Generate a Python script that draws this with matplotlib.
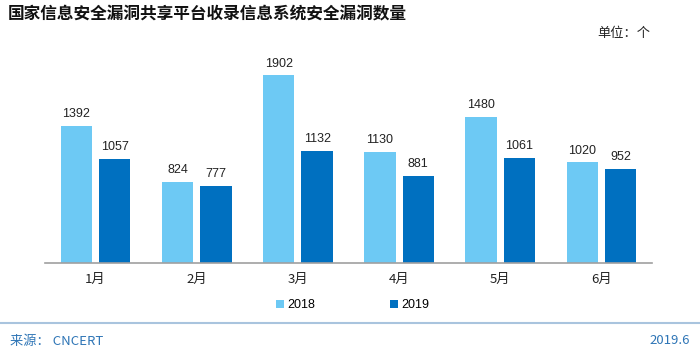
import matplotlib
matplotlib.use('Agg')
import matplotlib.pyplot as plt
import numpy as np

plt.rcParams['font.family'] = ['Noto Sans CJK SC', 'DejaVu Sans']

months = ['1月', '2月', '3月', '4月', '5月', '6月']
v2018 = [1392, 824, 1902, 1130, 1480, 1020]
v2019 = [1057, 777, 1132, 881, 1061, 952]

c2018 = '#6DC9F4'
c2019 = '#0070C0'

fig = plt.figure(figsize=(7, 3.54), dpi=100)
ax = fig.add_axes([45 / 700, 91 / 354, 607 / 700, 213 / 354])

x = np.arange(len(months))
w = 0.31
b1 = ax.bar(x - 0.19, v2018, w, color=c2018, label='2018')
b2 = ax.bar(x + 0.19, v2019, w, color=c2019, label='2019')

for bars in (b1, b2):
    for r in bars:
        ax.text(r.get_x() + r.get_width() / 2, r.get_height() + 60, str(int(r.get_height())),
                ha='center', va='bottom', fontsize=9, family='Liberation Sans', color='#222222')

ax.set_xlim(-0.5, 5.5)
ax.set_ylim(0, 2160)
ax.set_xticks(x)
ax.set_xticklabels(months, fontsize=9.5, color='#222222')
ax.tick_params(axis='x', length=0, pad=7)
ax.set_yticks([])
for s in ['top', 'left', 'right']:
    ax.spines[s].set_visible(False)
ax.spines['bottom'].set_color('#A0A0A0')
ax.spines['bottom'].set_linewidth(1.2)

leg = fig.legend(handles=[b1, b2], loc='center', bbox_to_anchor=(353 / 700, 1 - 305 / 354),
                 ncol=2, frameon=False, handlelength=0.6, handleheight=0.6,
                 handletextpad=0.3, columnspacing=6.0, prop={'family': 'Liberation Sans', 'size': 9})

fig.text(8 / 700, 1 - 14 / 354, '国家信息安全漏洞共享平台收录信息系统安全漏洞数量',
         fontsize=12, fontweight='bold', va='center', ha='left', color='#111111')
fig.text(650 / 700, 1 - 33 / 354, '单位：个', fontsize=9.5, va='center', ha='right', color='#222222')

fig.add_artist(plt.Line2D([0, 1], [1 - 323 / 354] * 2, color='#A9C4DE', linewidth=1.5))
fig.text(10 / 700, 1 - 341 / 354, '来源： CNCERT', fontsize=9.5, va='center', ha='left', color='#2E75B6')
fig.text(690 / 700, 1 - 341 / 354, '2019.6', fontsize=9.5, va='center', ha='right', color='#2E75B6')

fig.savefig('out.png', dpi=100)
